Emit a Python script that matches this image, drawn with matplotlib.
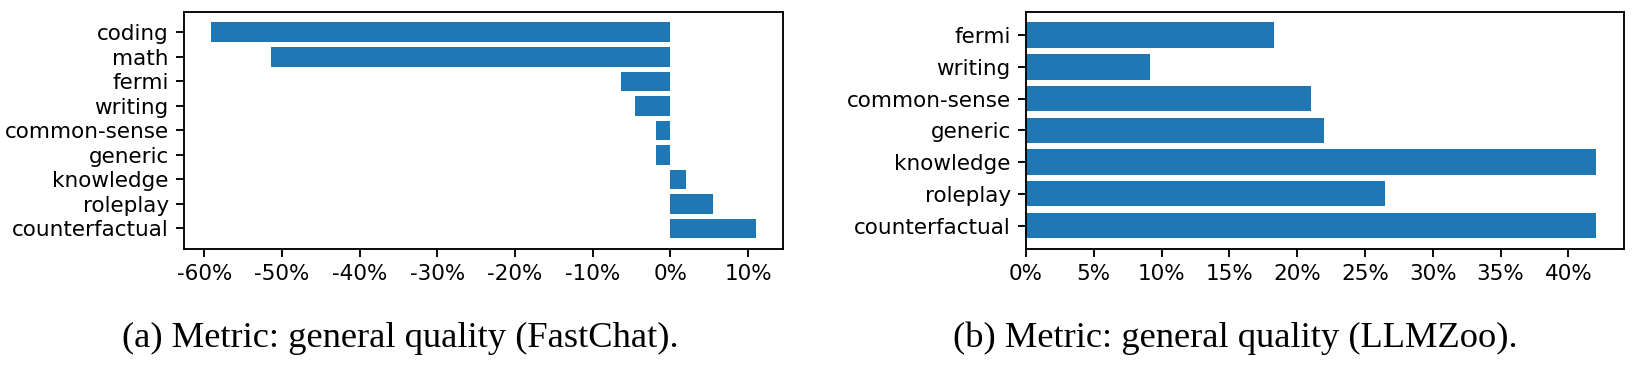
import matplotlib
matplotlib.use("Agg")
import matplotlib.pyplot as plt
from matplotlib.ticker import FuncFormatter, MultipleLocator

# Data (percent)
fastchat_categories = ["coding", "math", "fermi", "writing", "common-sense",
                       "generic", "knowledge", "roleplay", "counterfactual"]
fastchat_values = [-59.1, -51.4, -6.4, -4.5, -1.8, -1.8, 2.0, 5.5, 11.0]

llmzoo_categories = ["fermi", "writing", "common-sense", "generic",
                     "knowledge", "roleplay", "counterfactual"]
llmzoo_values = [18.3, 9.15, 21.0, 22.0, 42.0, 26.5, 42.0]

captions = ["(a) Metric: general quality (FastChat).",
            "(b) Metric: general quality (LLMZoo)."]

plt.rcParams["font.family"] = ["DejaVu Sans"]

W, H, DPI = 1646, 375, 150
fig = plt.figure(figsize=(W / DPI, H / DPI), dpi=DPI)

pct = FuncFormatter(lambda x, pos: f"{x:.0f}%")

ax1 = fig.add_axes([184 / W, (H - 249) / H, 599 / W, (249 - 11.7) / H])
ax1.barh(fastchat_categories, fastchat_values, color="#1f77b4")
ax1.invert_yaxis()
ax1.xaxis.set_major_locator(MultipleLocator(10))
ax1.xaxis.set_major_formatter(pct)

ax2 = fig.add_axes([1026 / W, (H - 249) / H, 598 / W, (249 - 11.7) / H])
ax2.barh(llmzoo_categories, llmzoo_values, color="#1f77b4")
ax2.invert_yaxis()
ax2.xaxis.set_major_locator(MultipleLocator(5))
ax2.xaxis.set_major_formatter(pct)

for ax in (ax1, ax2):
    ax.tick_params(labelsize=10.3, length=3.8, width=0.9)
    for s in ax.spines.values():
        s.set_linewidth(0.9)

fig.text(400 / W, (H - 347) / H, captions[0], ha="center", va="baseline",
         family="Liberation Serif", fontsize=17.5)
fig.text(1235 / W, (H - 347) / H, captions[1], ha="center", va="baseline",
         family="Liberation Serif", fontsize=17.5)

fig.savefig("out.png", dpi=DPI)
